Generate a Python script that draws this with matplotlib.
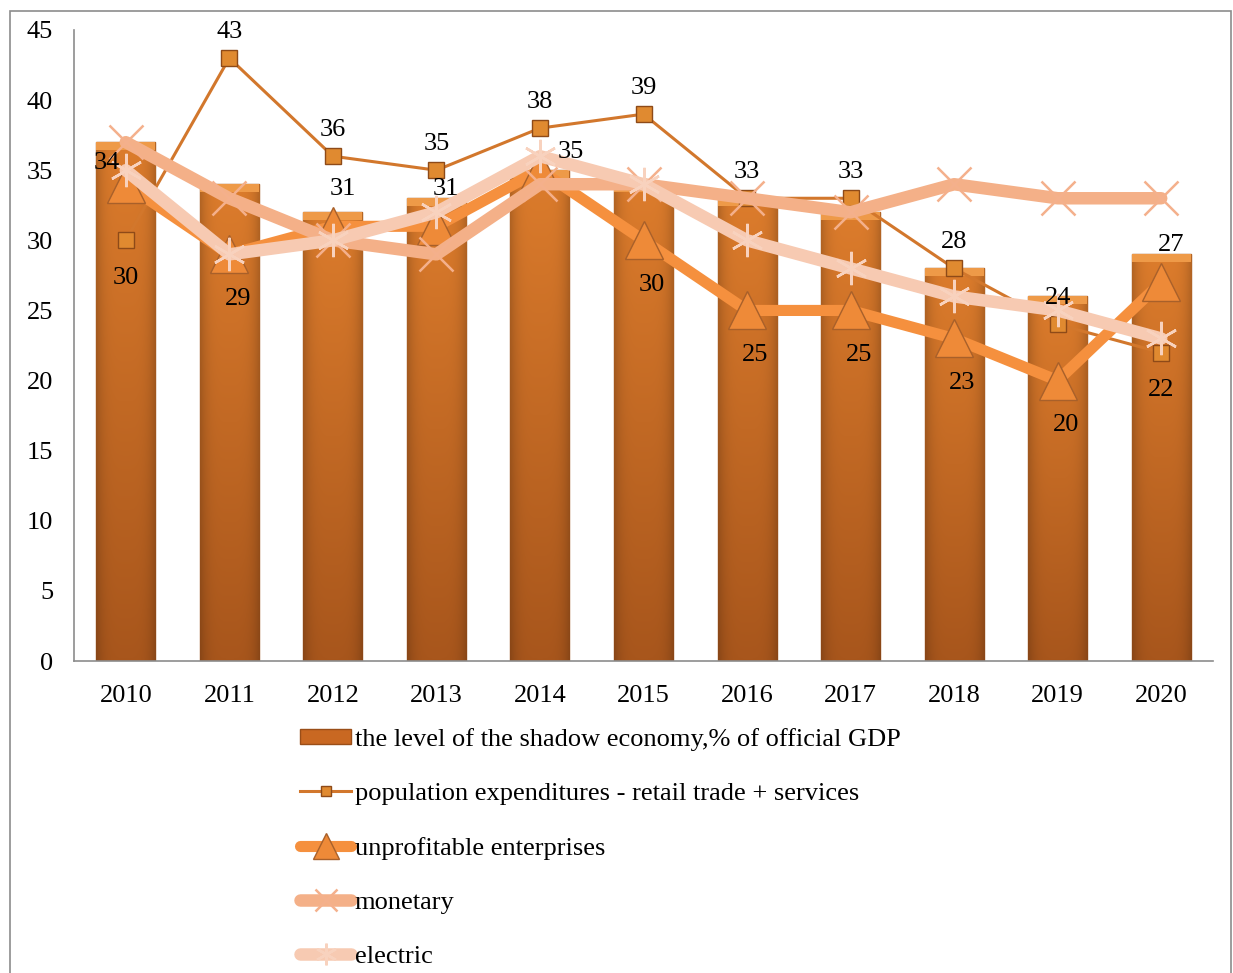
import matplotlib
matplotlib.use("Agg")
import matplotlib.pyplot as plt
import numpy as np
from matplotlib.patches import Rectangle
from matplotlib.colors import to_rgb

years = ["2010", "2011", "2012", "2013", "2014", "2015", "2016", "2017", "2018", "2019", "2020"]
shadow = [37, 34, 32, 33, 35, 34, 33, 32, 28, 26, 29]
population = [30, 43, 36, 35, 38, 39, 33, 33, 28, 24, 22]
unprofitable = [34, 29, 31, 31, 35, 30, 25, 25, 23, 20, 27]
monetary = [37, 33, 30, 29, 34, 34, 33, 32, 34, 33, 33]
electric = [35, 29, 30, 32, 36, 34, 30, 28, 26, 25, 23]

pop_pos = ["below", "above", "above", "above", "above", "above", "above", "above", "above", "above", "below"]
unp_pos = ["left", "below", "above", "above", "right", "below", "below", "below", "below", "below", "above"]

names = ["the level of the shadow economy,% of official GDP",
         "population expenditures - retail trade + services",
         "unprofitable enterprises",
         "monetary",
         "electric"]

plt.rcParams['font.family'] = ['Liberation Serif', 'DejaVu Serif']
FS = 19

fig = plt.figure(figsize=(12.33, 9.73), dpi=100)
ax = fig.add_axes([74/1233, 1-661/973, (1213-74)/1233, (661-30)/973])

x = np.arange(len(years))
bars = ax.bar(x, shadow, width=0.57, color="#C96822", edgecolor="#9A4E18", linewidth=1.0,
              label=names[0], zorder=2)

# gradient fill for bars
h = 100
w = 40
vy = np.linspace(0, 1, h)[:, None]
vx = np.linspace(0, 1, w)[None, :]
top = np.array(to_rgb("#DC7C2C"))
bot = np.array(to_rgb("#A8561C"))
grad = top[None, None, :] * (1 - vy[..., None]) + bot[None, None, :] * vy[..., None]
edge = 1 - 0.18 * (np.abs(vx - 0.5) * 2) ** 4
grad = grad * edge[..., None]
for b in bars:
    x0, y0 = b.get_x(), b.get_y()
    bw, bh = b.get_width(), b.get_height()
    im = ax.imshow(np.clip(grad, 0, 1), extent=[x0, x0 + bw, y0, y0 + bh], aspect='auto',
                   origin='upper', zorder=2.1, interpolation='bilinear')
    im.set_clip_path(b)
    ax.add_patch(Rectangle((x0, y0 + bh - 0.55), bw, 0.55, facecolor="#EE9A48",
                           edgecolor='none', zorder=2.2))

l1, = ax.plot(x, population, color="#D2772C", lw=2.2, marker='s', markersize=11,
              markerfacecolor="#E08A30", markeredgecolor="#8E4A18", markeredgewidth=1.0,
              label=names[1], zorder=3)
l2, = ax.plot(x, unprofitable, color="#F5903E", lw=8, marker='^', markersize=28,
              markerfacecolor="#EE8A38", markeredgecolor="#A8602A", markeredgewidth=1.0,
              label=names[2], zorder=4, solid_capstyle='round')
l3, = ax.plot(x, monetary, color="#F4B088", lw=9, marker='x', markersize=24,
              markeredgecolor="#F4B08C", markeredgewidth=1.8,
              label=names[3], zorder=5, solid_capstyle='round')
l4, = ax.plot(x, electric, color="#F7CAB2", lw=9, marker=(6, 2, 0), markersize=24,
              markeredgecolor="#F8D2BE", markeredgewidth=1.8,
              label=names[4], zorder=6, solid_capstyle='round')

def offs(pos, kind):
    if kind == 'pop':
        return {"above": (0, 19), "below": (0, -27), "left": (-15, 0), "right": (15, 0)}[pos]
    return {"above": (7, 27), "below": (6, -32), "left": (-14, 15), "right": (22, 13)}[pos]

for i in range(len(years)):
    dx, dy = offs(pop_pos[i], 'pop')
    ax.annotate(str(population[i]), (x[i], population[i]), xytext=(dx, dy),
                textcoords='offset points', ha='center', va='center', fontsize=FS, zorder=10)
    dx, dy = offs(unp_pos[i], 'unp')
    ax.annotate(str(unprofitable[i]), (x[i], unprofitable[i]), xytext=(dx, dy),
                textcoords='offset points', ha='center', va='center', fontsize=FS, zorder=10)

ax.set_xlim(-0.5, len(years) - 0.5)
ax.set_ylim(0, 45)
ax.set_yticks(range(0, 46, 5))
ax.set_xticks(x)
ax.set_xticklabels(years)
ax.tick_params(axis='both', length=0, labelsize=FS)
ax.tick_params(axis='y', pad=15)
ax.tick_params(axis='x', pad=17)
for s in ['top', 'right']:
    ax.spines[s].set_visible(False)
for s in ['left', 'bottom']:
    ax.spines[s].set_color("#8C8C8C")
    ax.spines[s].set_linewidth(1.2)

handles = [bars, l1, l2, l3, l4]
leg = fig.legend(handles, names, loc='upper left', bbox_to_anchor=(300/1233, 1-728/973),
                 frameon=False, fontsize=FS, labelspacing=1.21, handlelength=1.95,
                 handletextpad=0.12, borderaxespad=0, borderpad=0, markerscale=0.65,
                 handleheight=0.5)

fig.patches.append(Rectangle((10/1233, -0.02), (1231-10)/1233, 1.02 - 11/973,
                             transform=fig.transFigure, fill=False, edgecolor="#8C8C8C",
                             linewidth=1.2))

fig.savefig("out.png", dpi=100)
